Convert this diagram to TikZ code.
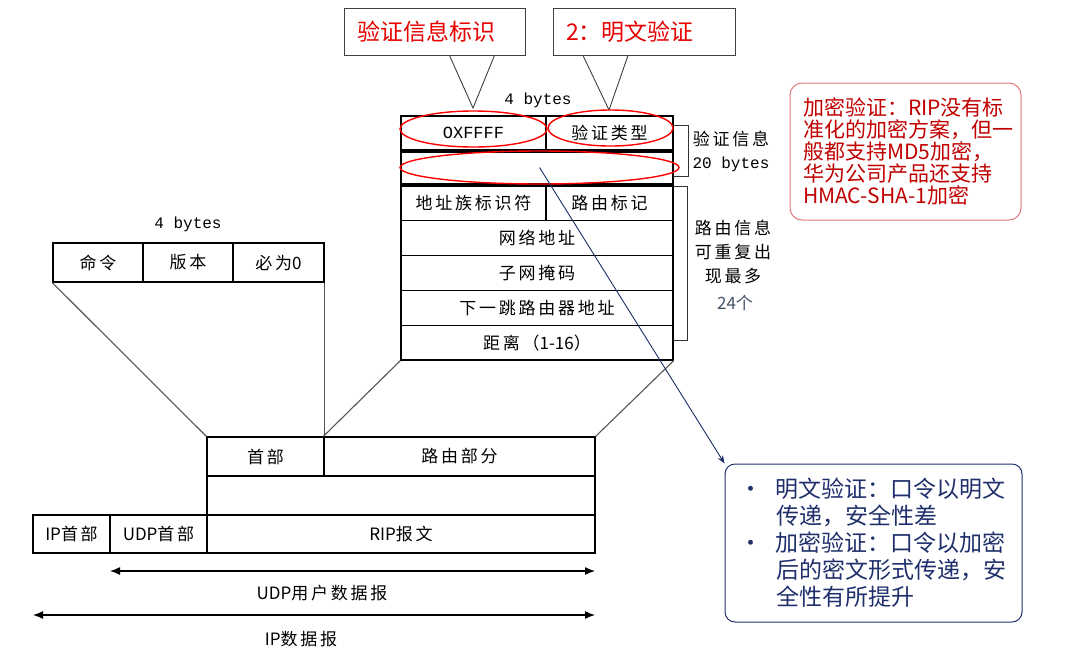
\documentclass[tikz,border=0pt]{standalone}
\usepackage{fontspec}
\setmainfont{Noto Sans CJK SC}
\newfontfamily\tabfont{Noto Sans CJK SC}[LetterSpace=16]
\newfontfamily\latfont{Noto Sans CJK SC}
\newfontfamily\bytefont{Liberation Mono}
\newcommand{\lat}[1]{{\latfont #1}}
\usetikzlibrary{arrows.meta,shapes.geometric}
\definecolor{callred}{HTML}{E60000}
\definecolor{notered}{HTML}{C00000}
\definecolor{noteedge}{HTML}{E07A7A}
\definecolor{navy}{HTML}{1F2F6B}
\definecolor{linegray}{HTML}{555555}
\definecolor{countblue}{HTML}{44546A}
\tikzset{
  cell/.style={draw, line width=1.3pt, inner sep=0pt, font=\tabfont\fontsize{17}{19}\selectfont},
  link/.style={draw=linegray, line width=1.1pt},
  brack/.style={draw=black!80, line width=0.9pt},
  bytes/.style={font=\bytefont\fontsize{16}{18}\selectfont},
  plain/.style={font=\tabfont\fontsize{17}{24}\selectfont, align=center},
  dim/.style={line width=1.3pt, {Latex[length=10pt,width=8pt]}-{Latex[length=10pt,width=8pt]}},
  callbox/.style={draw=black!75, line width=0.9pt, fill=white, text=callred, align=left,
    inner xsep=13pt, font=\fontsize{23}{25}\selectfont},
  callline/.style={draw=black!75, line width=0.9pt},
  ring/.style={ellipse, draw=red, line width=1.4pt, inner sep=0pt},
  pointer/.style={draw=navy, line width=0.9pt, -{Stealth[length=8pt,width=6pt]}}
}
\begin{document}
\begin{tikzpicture}[x=1pt,y=-1pt]
\useasboundingbox (0,0) rectangle (1069,649);

% callouts on top
\node[callbox, text width=155pt, minimum height=47pt] at (434.5,31.5) (idbox) {验证信息标识};
\node[callbox, text width=156pt, minimum height=47pt] at (644,31.5) (typebox) {2：明文验证};
\coordinate (idtip) at (473,108);
\coordinate (typetip) at (609,110);
\draw[callline] ([xshift=15pt]idbox.south) -- (idtip) -- ([xshift=60pt]idbox.south);
\draw[callline] ([xshift=-61pt]typebox.south) -- (typetip) -- ([xshift=-16pt]typebox.south);

% authentication entry
\node[bytes] at (538,100) (rbytes) {4 bytes};
\node[cell, minimum width=145pt, minimum height=34pt, font=\bytefont\fontsize{17}{19}\selectfont] at (473.5,133) (oxf) {OXFFFF};
\node[cell, minimum width=127pt, minimum height=34pt] at (609.5,133) (vtype) {验证类型};
\node[cell, minimum width=272pt, minimum height=32pt] at (537,168) (vinfo) {};

% route entry
\node[cell, minimum width=145pt, minimum height=34.8pt] at (473.5,203.4) (afi) {地址族标识符};
\node[cell, minimum width=127pt, minimum height=34.8pt] at (609.5,203.4) (tag) {路由标记};
\node[cell, minimum width=272pt, minimum height=34.8pt] at (537,238.2) (net) {网络地址};
\node[cell, minimum width=272pt, minimum height=34.8pt] at (537,273) (mask) {子网掩码};
\node[cell, minimum width=272pt, minimum height=34.8pt] at (537,307.8) (hop) {下一跳路由器地址};
\node[cell, minimum width=272pt, minimum height=34.8pt] at (537,342.6) (dist) {距离（\lat{1-16}）};

% brackets
\draw[brack] (673,125) -| (688,176) -- (673,176);
\draw[brack] (673,186) -| (687,340) -- (673,340);
\node[bytes, font=\tabfont\fontsize{17}{19}\selectfont] at (731,139) (vlabel) {验证信息};
\node[bytes] at (731,164) (vsize) {20 bytes};
\node[plain] at (733,252) (rlabel) {路由信息\\可重复出\\现最多};
\node[font=\fontsize{17}{19}\selectfont, text=countblue] at (735,303) (rcount) {24个};

% header
\node[bytes] at (188,224) (lbytes) {4 bytes};
\node[cell, minimum width=90pt, minimum height=39pt] at (98,262.5) (cmd) {命令};
\node[cell, minimum width=90pt, minimum height=39pt] at (188,262.5) (ver) {版本};
\node[cell, minimum width=91pt, minimum height=39pt] at (278.5,262.5) (zero) {必为\lat{0}};

% packet
\node[cell, minimum width=117pt, minimum height=39pt] at (265.5,456.5) (hdr) {首部};
\node[cell, minimum width=271pt, minimum height=39pt] at (459.5,456.5) (route) {路由部分};
\node[cell, minimum width=388pt, minimum height=39pt] at (401,495.5) (blank) {};
\node[cell, minimum width=77pt, minimum height=38pt] at (71.5,534) (iph) {\lat{IP}首部};
\node[cell, minimum width=97pt, minimum height=38pt] at (158.5,534) (udph) {\lat{UDP}首部};
\node[cell, minimum width=388pt, minimum height=38pt] at (401,534) (rip) {\lat{RIP}报文};

\draw[link] (cmd.south west) -- (hdr.north west);
\draw[link] (zero.south east) -- (hdr.north east);
\draw[link] (dist.south west) -- (route.north west);
\draw[link] (dist.south east) -- (route.north east);

\coordinate (udpL) at (110,571);
\coordinate (udpR) at (595,571);
\coordinate (ipL) at (33,615);
\coordinate (ipR) at (595,615);
\draw[dim] (udpL) -- (udpR);
\draw[dim] (ipL) -- (ipR);
\node[plain] at (322,593) (udplabel) {\lat{UDP}用户数据报};
\node[plain] at (301,639) (iplabel) {\lat{IP}数据报};

% marks
\node[ring, minimum width=147pt, minimum height=36pt] at (473.5,129) (e1) {};
\node[ring, minimum width=125pt, minimum height=36pt] at (610.5,128) (e2) {};
\node[ring, minimum width=279pt, minimum height=33pt] at (539.5,167.5) (e3) {};

% notes
\node[draw=noteedge, line width=1pt, rounded corners=12pt, text=notered, align=left,
  minimum width=231pt, minimum height=137pt, text width=205pt, inner xsep=13pt,
  font=\fontsize{21}{22}\selectfont] at (905.5,151.5) (rnote)
  {加密验证：RIP没有标\\准化的加密方案，但一\\般都支持MD5加密，\\华为公司产品还支持\\HMAC-SHA-1加密};
\node[draw=navy, line width=1pt, rounded corners=10pt, text=navy, align=left,
  minimum width=297pt, minimum height=158pt, text width=269pt, inner xsep=14pt,
  font=\fontsize{23}{27}\selectfont] at (873.5,543) (bnote)
  {\makebox[37pt][l]{•}明文验证：口令以明文\\
   \hspace*{37pt}传递，安全性差\\
   \makebox[37pt][l]{•}加密验证：口令以加密\\
   \hspace*{37pt}后的密文形式传递，安\\
   \hspace*{37pt}全性有所提升};
\draw[pointer] (e3.center) -- (bnote.north west);
\end{tikzpicture}
\end{document}
